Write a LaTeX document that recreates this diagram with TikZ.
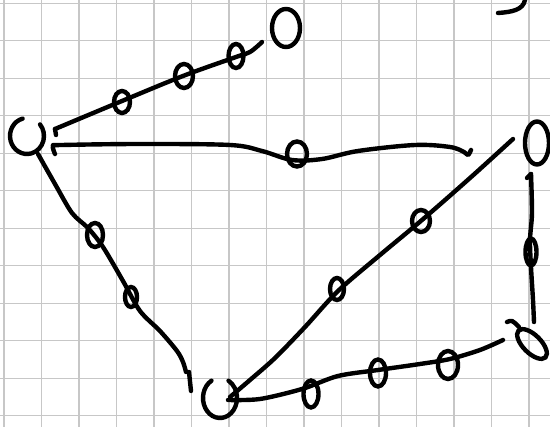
\documentclass[tikz,border=0pt]{standalone}
\usetikzlibrary{shapes.geometric}
\begin{document}
\begin{tikzpicture}[x=1pt,y=-1pt,
  ink/.style={line width=4.4pt, line cap=round, line join=round},
  vert/.style={ellipse, inner sep=0pt},
  vertdraw/.style={ellipse, draw, line width=4.4pt, inner sep=0pt},
  bead/.style={ellipse, draw, line width=4.4pt, inner sep=0pt},
  gridline/.style={draw=black!22, line width=1.3pt}]
\useasboundingbox (0,0) rectangle (550,427);
\fill[white] (0,0) rectangle (550,427);
\foreach \i in {0,...,14} \draw[gridline] ({4+37.5*\i},0) -- ({4+37.5*\i},427);
\foreach \j in {0,...,11} \draw[gridline] (0,{3.3+37.5*\j}) -- (550,{3.3+37.5*\j});

% vertices
\node[vert, minimum width=34pt, minimum height=36pt] (A) at (27,136) {};
\draw[ink] ([shift={(105:17pt and 18pt)}]A.center) arc[start angle=105, end angle=400, x radius=17pt, y radius=18pt];
\node[vertdraw, minimum width=28pt, minimum height=38pt] (B) at (286,28) {};
\node[vertdraw, minimum width=24pt, minimum height=43pt] (C) at (537,143) {};
\node[vert, minimum width=34pt, minimum height=40pt] (D) at (220,398) {};
\draw[ink] ([shift={(120:17pt and 20pt)}]D.center) arc[start angle=120, end angle=420, x radius=17pt, y radius=20pt];
\node[vertdraw, minimum width=38pt, minimum height=18pt, rotate=-45] (E) at (532,344) {};
\draw[ink] (507,322) .. controls (512,320) .. (519,327);

% connector end points
\coordinate (ab0) at (55,129);
\coordinate (ab1) at (262,42);
\coordinate (ac0) at (53,146);
\coordinate (ac1) at (468,155);
\coordinate (cd0) at (513,139);
\coordinate (cd1) at (230,397);
\coordinate (ad0) at (38,154);
\coordinate (ad1) at (186,372);
\coordinate (de0) at (228,400);
\coordinate (de1) at (503,340);
\coordinate (ce0) at (531,174);
\coordinate (ce1) at (534,322);

% connectors
\draw[ink] (ab0) -- ++(1,6);
\draw[ink] plot[smooth, tension=0.6] coordinates {(ab0) (122,101) (183,76) (236,57) (250,52) (ab1)};
\draw[ink] plot[smooth, tension=0.55] coordinates {(55,154) (ac0) (62,145) (140,144) (230,145) (262,151) (292,160) (322,159) (358,151) (415,145) (450,147) (464,152) (ac1) (471,150)};
\draw[ink] plot[smooth, tension=0.5] coordinates {(cd0) (470,178) (422,220) (380,255) (338,291) (305,327) (275,358) (250,380) (cd1)};
\draw[ink] plot[smooth, tension=0.5] coordinates {(ad0) (55,184) (72,213) (88,228) (103,247) (123,281) (140,311) (160,331) (177,351) (183,362) (ad1)};
\draw[ink] (189,372) -- (191,391);
\draw[ink] plot[smooth, tension=0.5] coordinates {(de0) (260,399) (302,389) (338,376) (378,370) (420,364) (450,359) (480,350) (de1)};
\draw[ink] (527,178) -- (ce0);
\draw[ink] plot[smooth, tension=0.5] coordinates {(ce0) (532,213) (530,240) (531,267) (533,300) (ce1)};
\draw[ink] (498,13) .. controls (512,12) and (523,10) .. (525,0);

% beads on connectors
\node[bead, minimum width=16pt, minimum height=22pt] (b1) at (122,102) {};
\node[bead, minimum width=18pt, minimum height=24pt] (b2) at (184,76) {};
\node[bead, minimum width=15pt, minimum height=24pt] (b3) at (236,56) {};
\node[bead, minimum width=20pt, minimum height=25pt] (b4) at (297,154) {};
\node[bead, minimum width=18pt, minimum height=22pt] (b5) at (421,221) {};
\node[bead, minimum width=14pt, minimum height=22pt] (b6) at (337,289) {};
\node[bead, minimum width=16pt, minimum height=24pt] (b7) at (95,235) {};
\node[bead, minimum width=12pt, minimum height=20pt] (b8) at (131,297) {};
\node[bead, minimum width=15pt, minimum height=27pt] (b9) at (311,394) {};
\node[bead, minimum width=16pt, minimum height=27pt] (b10) at (378,373) {};
\node[bead, minimum width=20pt, minimum height=28pt] (b11) at (448,365) {};
\node[bead, minimum width=11pt, minimum height=27pt] (b12) at (531,252) {};
\end{tikzpicture}
\end{document}
